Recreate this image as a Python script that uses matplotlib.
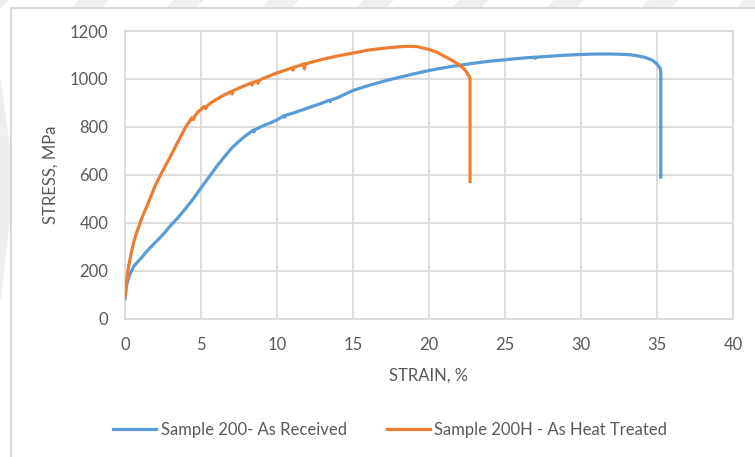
import matplotlib
matplotlib.use("Agg")
from matplotlib import pyplot as plt
from matplotlib.patches import Rectangle, Polygon

# Sample 200 - as received
strain_a = [0, 0.1, 0.3, 0.6, 1, 1.5, 2, 2.5, 3, 3.5, 4, 4.5, 5, 5.5, 6, 6.5,
            7, 7.5, 8, 8.45, 8.5, 8.55, 9, 9.5, 10, 10.45, 10.5, 10.55, 11, 12,
            13, 13.45, 13.5, 13.55, 14, 15, 16, 17, 18, 19, 20, 21, 22, 23, 24,
            25, 26, 26.95, 27, 27.05, 28, 29, 30, 31, 32, 33, 33.6, 34.2, 34.7,
            35.0, 35.2, 35.25, 35.25]
stress_a = [82, 138, 182, 220, 248, 285, 318, 350, 388, 422, 460, 500, 545,
            588, 632, 672, 710, 740, 766, 786, 780, 788, 802, 815, 829, 846, 840,
            848, 856, 878, 900, 911, 905, 912, 922, 952, 972, 990, 1006, 1021,
            1035, 1047, 1057, 1066, 1074, 1080, 1086, 1091, 1086, 1091, 1095,
            1099, 1102, 1104, 1104, 1102, 1098, 1090, 1078, 1062, 1045, 1026, 590]

# Sample 200H - heat treated
strain_b = [0, 0.1, 0.2, 0.4, 0.6, 0.8, 1.1, 1.5, 2, 2.4, 3.1, 3.5, 4, 4.4,
            4.5, 4.6, 4.8, 5.2, 5.3, 5.4, 5.6, 6, 6.5, 7, 7.05, 7.1, 7.5, 8,
            8.3, 8.35, 8.4, 8.7, 8.75, 8.8, 9, 10, 11, 11.05, 11.1, 11.75,
            11.8, 11.85, 12, 13, 14, 15, 16, 17, 18, 18.6, 19.2, 20, 20.5, 21,
            21.5, 22, 22.3, 22.5, 22.65, 22.7, 22.7]
stress_b = [90, 150, 205, 270, 325, 365, 418, 478, 556, 606, 690, 740, 800,
            838, 830, 845, 862, 884, 876, 887, 898, 914, 932, 948, 937, 950,
            962, 975, 983, 974, 985, 991, 982, 992, 1000, 1025, 1046, 1037,
            1048, 1062, 1042, 1063, 1065, 1082, 1096, 1108, 1120, 1128, 1134,
            1136, 1135, 1123, 1112, 1095, 1078, 1058, 1042, 1026, 1010, 1000, 572]

x_ticks = [0, 5, 10, 15, 20, 25, 30, 35, 40]
y_ticks = [0, 200, 400, 600, 800, 1000, 1200]

blue = "#5b9bd5"
orange = "#ed7d31"
grid = "#d9d9d9"
txt = "#595959"

plt.rcParams["font.family"] = ["Lato", "DejaVu Sans"]

fig = plt.figure(figsize=(7.55, 4.57), dpi=100)
W, H = 755, 457

# faint watermark behind the chart frame
wm = "#efefef"
for x0 in [-20, 80, 175, 270, 365, 460, 555, 650, 745]:
    fig.patches.append(Polygon([[(x0) / W, 1], [(x0 + 28) / W, 1],
                                [(x0 + 18) / W, 1 - 10 / H], [(x0 - 10) / W, 1 - 10 / H]],
                               closed=True, transform=fig.transFigure,
                               color=wm, zorder=0))
fig.patches.append(Polygon([[0, 1 - 80 / H], [14 / W, 1 - 180 / H],
                            [0, 1 - 300 / H]], closed=True,
                           transform=fig.transFigure, color=wm, zorder=0))
# chart frame
fig.patches.append(Rectangle((11 / W, -0.05), 1.0, 1 - 8 / H + 0.05,
                             transform=fig.transFigure, facecolor="white",
                             edgecolor=grid, linewidth=1.5, zorder=1))

ax = fig.add_axes([125 / W, 1 - 318.5 / H, (733 - 125) / W, (318.5 - 31) / H])
ax.set_zorder(2)
ax.patch.set_alpha(0)

ax.plot(strain_a, stress_a, color=blue, lw=2.3, label="Sample 200- As Received",
        solid_joinstyle="round", zorder=3)
ax.plot(strain_b, stress_b, color=orange, lw=2.3,
        label="Sample 200H - As Heat Treated", solid_joinstyle="round", zorder=3)

ax.set_xlim(0, 40)
ax.set_ylim(0, 1200)
ax.set_xticks(x_ticks)
ax.set_yticks(y_ticks)
ax.grid(True, color=grid, lw=1.3)
ax.set_axisbelow(True)
for s in ax.spines.values():
    s.set_color(grid)
    s.set_linewidth(1.3)
ax.tick_params(length=0, labelsize=12, labelcolor=txt)
ax.tick_params(axis="x", pad=13)
ax.tick_params(axis="y", pad=12)

ax.set_xlabel("STRAIN, %", fontsize=12, color=txt, labelpad=11)
ax.set_ylabel("STRESS, MPa", fontsize=12, color=txt, labelpad=8)

ax.legend(loc="center", bbox_to_anchor=(390 / W, 1 - 430 / H),
          bbox_transform=fig.transFigure, ncol=2, frameon=False,
          fontsize=12, labelcolor=txt, handlelength=2.6, handletextpad=0.25,
          columnspacing=2.4)

fig.savefig("out.png", dpi=100)
